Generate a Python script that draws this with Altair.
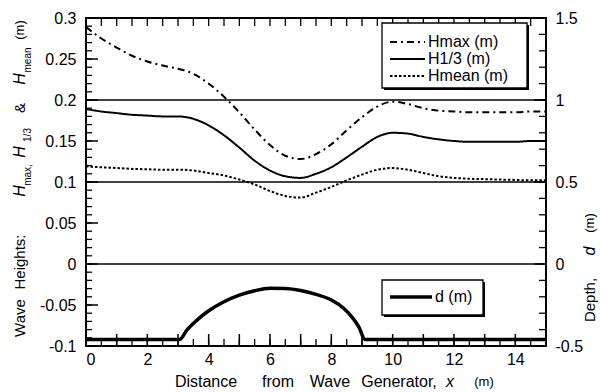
import altair as alt
import pandas as pd
import numpy as np

# ---------------- data ----------------
x_pos = [0, 0.5, 1, 1.5, 2, 2.5, 3, 3.5, 4, 4.5, 5, 5.5, 6, 6.5, 7, 7.5,
         8, 8.5, 9, 9.5, 10, 10.5, 11, 11.5, 12, 12.5, 13, 13.5, 14, 14.5, 15]
hmax = [0.289, 0.275, 0.264, 0.254, 0.247, 0.242, 0.238, 0.232, 0.220, 0.204,
        0.185, 0.164, 0.145, 0.132, 0.128, 0.134, 0.146, 0.163, 0.179, 0.192,
        0.198, 0.195, 0.190, 0.187, 0.186, 0.185, 0.185, 0.185, 0.185, 0.186, 0.186]
h13 = [0.189, 0.186, 0.184, 0.182, 0.181, 0.180, 0.180, 0.177, 0.169, 0.157,
       0.142, 0.126, 0.114, 0.107, 0.105, 0.110, 0.118, 0.130, 0.143, 0.155,
       0.160, 0.159, 0.155, 0.152, 0.150, 0.149, 0.149, 0.149, 0.149, 0.150, 0.150]
hmean = [0.119, 0.118, 0.117, 0.116, 0.1155, 0.115, 0.115, 0.114, 0.111, 0.108,
         0.103, 0.097, 0.089, 0.083, 0.081, 0.087, 0.094, 0.102, 0.109, 0.115,
         0.117, 0.115, 0.111, 0.107, 0.105, 0.104, 0.1035, 0.103, 0.1025, 0.102, 0.102]
series_names = ["Hmax (m)", "H1/3 (m)", "Hmean (m)"]

depth_x = [0, 3.05, 3.3, 3.6, 4, 4.5, 5, 5.5, 6, 6.5, 7, 7.5, 8, 8.4, 8.7, 8.9, 9.1, 15]
depth_d = [-0.46, -0.46, -0.40, -0.345, -0.285, -0.23, -0.19, -0.163, -0.148, -0.15,
           -0.162, -0.185, -0.22, -0.27, -0.33, -0.385, -0.46, -0.46]

grid_vals = [0.0, 0.1, 0.2]
left_labels = [-0.1, -0.05, 0, 0.05, 0.1, 0.15, 0.2, 0.25, 0.3]
right_labels = [-0.5, 0, 0.5, 1, 1.5]
x_labels = [0, 2, 4, 6, 8, 10, 12, 14]

# ---------------- frames ----------------
df_h = pd.concat([
    pd.DataFrame({"x": x_pos, "value": v, "series": n})
    for v, n in zip([hmax, h13, hmean], series_names)
])
df_d = pd.DataFrame({"x": depth_x, "d": depth_d})

W, H = 460, 328
FONT = "Liberation Sans"
xscale = alt.Scale(domain=[0, 15], nice=False, zero=False)
yL = alt.Scale(domain=[-0.1, 0.3], nice=False, zero=False)
yR = alt.Scale(domain=[-0.5, 1.5], nice=False, zero=False)
lab_expr = "'' + round(datum.value*100)/100"

xaxis = alt.Axis(values=x_labels, title=None, ticks=False, tickSize=0, domain=False,
                 grid=False, labelFontSize=16, labelPadding=5, labelFont=FONT,
                 labelColor="black")
yaxisL = alt.Axis(values=left_labels, title=None, ticks=False, tickSize=0, domain=False,
                  grid=False, labelFontSize=16, labelPadding=10, labelFont=FONT,
                  labelColor="black", labelExpr=lab_expr)
yaxisR = alt.Axis(orient="right", values=right_labels, title=None, ticks=False,
                  tickSize=0, domain=False, grid=False, labelFontSize=16,
                  labelPadding=9, labelFont=FONT, labelColor="black",
                  labelExpr=lab_expr)

one = pd.DataFrame({"a": [0]})


def txt(s, x, y, size=14, angle=0, style="normal", align="center", baseline="middle"):
    return alt.Chart(one).mark_text(
        text=s, font=FONT, fontSize=size, angle=angle, fontStyle=style,
        align=align, baseline=baseline, color="black"
    ).encode(x=alt.value(x), y=alt.value(y))


def rule_px(x, x2, y, y2, dash=None, width=1.5):
    kw = dict(color="black", strokeWidth=width)
    if dash is not None:
        kw["strokeDash"] = dash
    return alt.Chart(one).mark_rule(**kw).encode(
        x=alt.value(x), x2=alt.value(x2), y=alt.value(y), y2=alt.value(y2))


def box(x, x2, y, y2):
    shadow = alt.Chart(one).mark_rect(color="black").encode(
        x=alt.value(x + 2), x2=alt.value(x2 + 2), y=alt.value(y + 2), y2=alt.value(y2 + 2))
    face = alt.Chart(one).mark_rect(fill="white", stroke="black", strokeWidth=1.3).encode(
        x=alt.value(x), x2=alt.value(x2), y=alt.value(y), y2=alt.value(y2))
    return [shadow, face]


# ---------------- left (wave heights) ----------------
h_lines = alt.Chart(df_h).mark_line(color="black", strokeWidth=2, interpolate="monotone").encode(
    x=alt.X("x:Q", scale=xscale, axis=xaxis),
    y=alt.Y("value:Q", scale=yL, axis=yaxisL),
    strokeDash=alt.StrokeDash("series:N",
                              scale=alt.Scale(domain=series_names,
                                              range=[[7, 4, 2, 4], [1, 0], [2.5, 2]]),
                              legend=None),
    detail="series:N",
)

grid = alt.Chart(pd.DataFrame({"g": grid_vals})).mark_rule(color="black", strokeWidth=1.3).encode(
    y=alt.Y("g:Q", scale=yL, axis=yaxisL))

left_minor = alt.Chart(pd.DataFrame({"v": np.round(np.arange(-0.1, 0.3001, 0.01), 3)})).mark_rule(
    color="black", strokeWidth=1.3).encode(y=alt.Y("v:Q", scale=yL, axis=yaxisL),
                                          x=alt.value(0), x2=alt.value(6))
left_major = alt.Chart(pd.DataFrame({"v": left_labels})).mark_rule(
    color="black", strokeWidth=1.5).encode(y=alt.Y("v:Q", scale=yL, axis=yaxisL),
                                          x=alt.value(0), x2=alt.value(12))
xt_minor = alt.Chart(pd.DataFrame({"v": np.arange(0, 15.01, 0.5)})).mark_rule(
    color="black", strokeWidth=1.3).encode(x=alt.X("v:Q", scale=xscale, axis=xaxis),
                                          y=alt.value(H), y2=alt.value(H - 7))
xt_major = alt.Chart(pd.DataFrame({"v": np.arange(0, 15.01, 1.0)})).mark_rule(
    color="black", strokeWidth=1.5).encode(x=alt.X("v:Q", scale=xscale, axis=xaxis),
                                          y=alt.value(H), y2=alt.value(H - 12))
top_ticks = alt.Chart(pd.DataFrame({"v": np.arange(0, 15.01, 0.5)})).mark_rule(
    color="black", strokeWidth=1.3).encode(x=alt.X("v:Q", scale=xscale, axis=xaxis),
                                          y=alt.value(0), y2=alt.value(8))

# legend 1
leg1 = box(296, 441, 5, 70)
leg1 += [
    rule_px(304, 339, 24, 24, dash=[7, 4, 2, 4], width=2),
    rule_px(304, 339, 41, 41, width=2),
    rule_px(304, 339, 58, 58, dash=[2.5, 2], width=2),
    txt("Hmax (m)", 342, 24, size=16, align="left"),
    txt("H1/3 (m)", 342, 41, size=16, align="left"),
    txt("Hmean (m)", 342, 58, size=16, align="left"),
]
# legend 2
leg2 = box(296, 397, 262, 297)
leg2 += [
    rule_px(304, 346, 279, 279, width=3.5),
    txt("d (m)", 349, 279, size=16, align="left"),
]

# titles
ytitle = [
    txt("Wave", -66, 300, angle=270, size=15),
    txt("Heights:", -66, 244, angle=270, size=15),
    txt("H", -66, 173, angle=270, style="italic", size=16),
    txt("max,", -58, 157, angle=270, size=10),
    txt("H", -66, 134, angle=270, style="italic", size=16),
    txt("1/3", -58, 117, angle=270, size=10),
    txt("&", -66, 90, angle=270, size=15),
    txt("H", -66, 61, angle=270, style="italic", size=16),
    txt("mean", -58, 42, angle=270, size=10),
    txt("(m)", -66, 12, angle=270, size=13),
]
XT_Y = 364
xtitle = [
    txt("Distance", 120, XT_Y, size=16),
    txt("from", 192, XT_Y, size=16),
    txt("Wave", 244, XT_Y, size=16),
    txt("Generator,", 313, XT_Y, size=16),
    txt("x", 364, XT_Y, size=16, style="italic"),
    txt("(m)", 398, XT_Y, size=13),
]
rtitle = [
    txt("Depth,", 504, 282, angle=270, size=15),
    txt("d", 504, 233, angle=270, style="italic", size=16),
    txt("(m)", 504, 205, angle=270, size=13),
]

left = alt.layer(grid, left_minor, left_major, xt_minor, xt_major, top_ticks, h_lines,
                 *leg1, *leg2, *ytitle, *xtitle)

# ---------------- right (depth) ----------------
d_line = alt.Chart(df_d).mark_line(color="black", strokeWidth=3.5, interpolate="monotone").encode(
    x=alt.X("x:Q", scale=xscale, axis=xaxis),
    y=alt.Y("d:Q", scale=yR, axis=yaxisR),
)
right_minor = alt.Chart(pd.DataFrame({"v": np.round(np.arange(-0.5, 1.501, 0.1), 2)})).mark_rule(
    color="black", strokeWidth=1.3).encode(y=alt.Y("v:Q", scale=yR, axis=yaxisR),
                                          x=alt.value(W), x2=alt.value(W - 7))
right_major = alt.Chart(pd.DataFrame({"v": right_labels})).mark_rule(
    color="black", strokeWidth=1.5).encode(y=alt.Y("v:Q", scale=yR, axis=yaxisR),
                                          x=alt.value(W), x2=alt.value(W - 12))

right = alt.layer(right_minor, right_major, d_line, *rtitle)

chart = alt.layer(left, right).resolve_scale(y="independent").properties(
    width=W, height=H,
    autosize=alt.AutoSizeParams(type="none"),
    padding={"left": 86, "top": 18, "right": 55, "bottom": 46},
).configure_view(stroke="black", strokeWidth=2).configure_axis(labelFont=FONT)

chart.save("out.html", embed_options={"renderer": "svg", "actions": False})
